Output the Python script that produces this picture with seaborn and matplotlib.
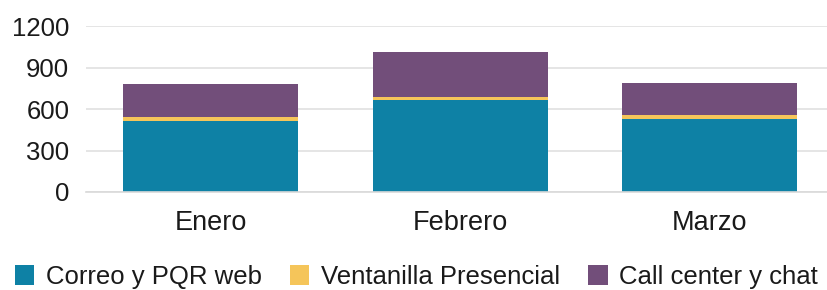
import seaborn as sns
import matplotlib.pyplot as plt
import numpy as np
import pandas as pd
from matplotlib.patches import Patch

months = ["Enero", "Febrero", "Marzo"]
correo = [515, 665, 530]
ventanilla = [25, 20, 27]
callcenter = [241, 329, 229]

series_names = ["Correo y PQR web", "Ventanilla Presencial", "Call center y chat"]
colors = ["#0E81A5", "#F5C55A", "#724E7A"]

sns.set_style("white")
plt.rcParams["font.family"] = ["Liberation Sans", "DejaVu Sans"]

df = pd.DataFrame({"mes": months, "correo": correo,
                   "ventanilla": ventanilla, "call": callcenter})
df["lvl1"] = df["correo"]
df["lvl2"] = df["correo"] + df["ventanilla"]
df["lvl3"] = df["lvl2"] + df["call"]

fig = plt.figure(figsize=(8.28, 2.9), dpi=100)
ax = fig.add_axes([0.1039, 0.338, 0.904, 0.572])

# stacked bars: draw the totals first, then overlay the lower levels
for col, c in zip(["lvl3", "lvl2", "lvl1"], colors[::-1]):
    sns.barplot(data=df, x="mes", y=col, color=c, width=0.7, ax=ax,
                saturation=1, edgecolor="none", linewidth=0)

ax.set_ylim(0, 1200)
ax.set_xlim(-0.5, 2.5)
ax.set_yticks([0, 300, 600, 900, 1200])
ax.yaxis.grid(True, color="#E0E0E0", linewidth=1.2)
ax.set_axisbelow(True)
ax.set_xlabel("")
ax.set_ylabel("")
for s in ["top", "right", "left"]:
    ax.spines[s].set_visible(False)
ax.spines["bottom"].set_color("#D9D9D9")
ax.spines["bottom"].set_linewidth(1.2)

ax.tick_params(axis="y", length=0, pad=12, labelsize=18.5, colors="#1a1a1a")
ax.tick_params(axis="x", which="major", length=0, pad=13, labelsize=19.5, colors="#1a1a1a")
ax.set_xticks([0.5, 1.5], minor=True)
ax.tick_params(axis="x", which="minor", length=7, color="#D9D9D9", width=1.2)

handles = [Patch(facecolor=c, edgecolor="none", label=n) for c, n in zip(colors, series_names)]
fig.legend(handles=handles, loc="center", bbox_to_anchor=(0.503, 0.045), ncol=3,
           frameon=False, fontsize=18.5, handlelength=0.75, handleheight=0.8,
           handletextpad=0.45, columnspacing=1.1, labelcolor="#1a1a1a")

fig.savefig("out.png", dpi=100)
